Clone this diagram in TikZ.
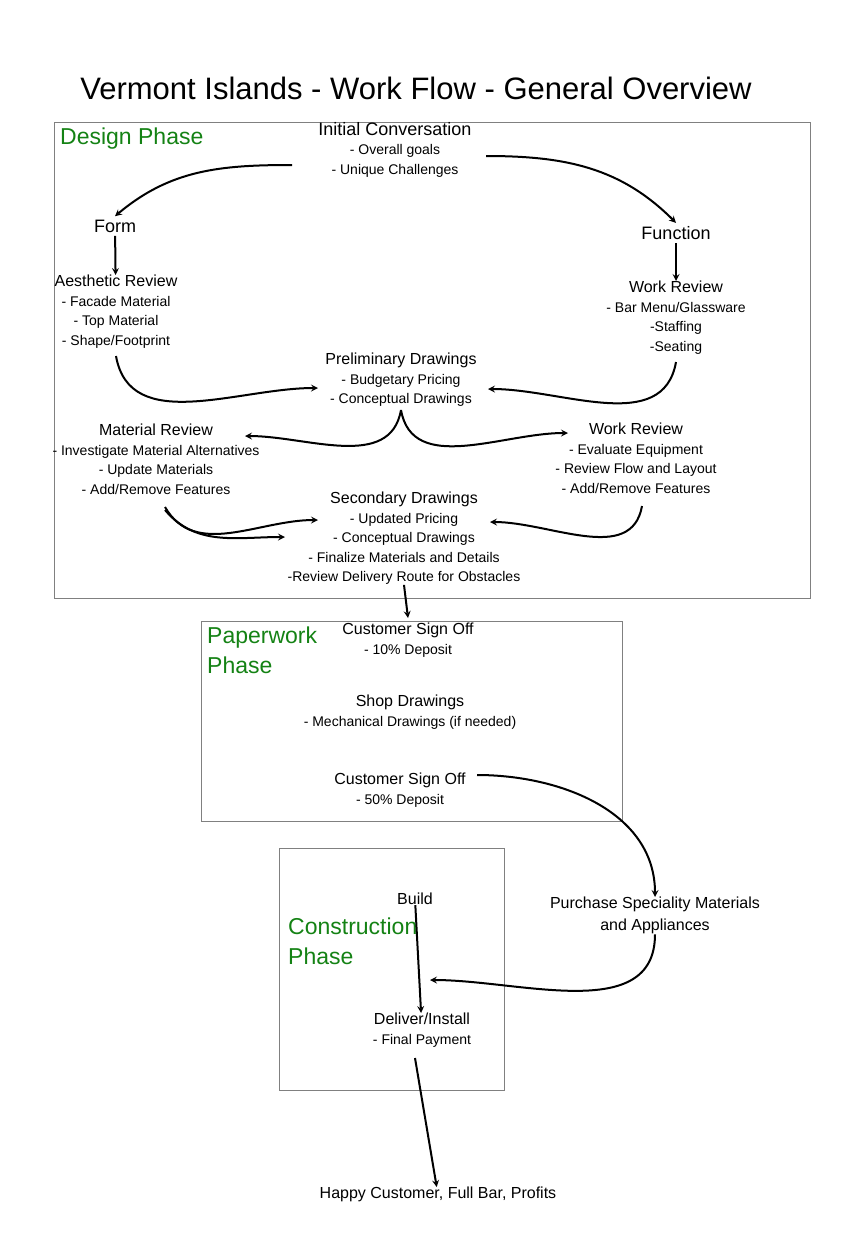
\documentclass[tikz,border=0pt]{standalone}
\usepackage{fontspec}
\setmainfont{Liberation Sans}
\usetikzlibrary{arrows}
\definecolor{green1}{RGB}{20, 130, 20}
\tikzset{
  blk/.style={align=center, anchor=north, inner sep=0pt, font=\fontsize{14}{19.5}\selectfont},
  hd/.style={font=\fontsize{18}{20}\selectfont},
  phase/.style={align=left, anchor=north west, inner sep=0pt, text=green1, font=\fontsize{23}{30}\selectfont},
  box/.style={draw=gray, line width=0.8pt},
  flow/.style={->, >=stealth, line width=2pt}
}
\begin{document}
\begin{tikzpicture}[x=1pt, y=-1pt]
  \useasboundingbox (0,0) rectangle (846,1234);
  \node[font=\fontsize{31}{34}\selectfont] (title) at (416,88) {Vermont Islands - Work Flow - General Overview};

  % design phase
  \draw[box] (54,122) rectangle (810,598);
  \node[phase] (dp) at (60,128) {Design Phase};
  \node[blk] (init) at (395,122) {{\fontsize{18}{20}\selectfont Initial Conversation}\\- Overall goals\\- Unique Challenges};
  \node[hd] (form) at (115,226) {Form};
  \node[hd] (func) at (676,233) {Function};
  \node[blk] (aes) at (116,275) {{\fontsize{16}{19}\selectfont Aesthetic Review}\\- Facade Material\\- Top Material\\- Shape/Footprint};
  \node[blk] (wr1) at (676,281) {{\fontsize{16}{19}\selectfont Work Review}\\- Bar Menu/Glassware\\-Staffing\\-Seating};
  \node[blk] (pre) at (401,353) {{\fontsize{16}{19}\selectfont Preliminary Drawings}\\- Budgetary Pricing\\- Conceptual Drawings};
  \node[blk] (mat) at (156,424) {{\fontsize{16}{19}\selectfont Material Review}\\- Investigate Material Alternatives\\- Update Materials\\- Add/Remove Features};
  \node[blk] (wr2) at (636,423) {{\fontsize{16}{19}\selectfont Work Review}\\- Evaluate Equipment\\- Review Flow and Layout\\- Add/Remove Features};
  \node[blk] (sec) at (404,492) {{\fontsize{16}{19}\selectfont Secondary Drawings}\\- Updated Pricing\\- Conceptual Drawings\\- Finalize Materials and Details\\-Review Delivery Route for Obstacles};

  % paperwork phase
  \draw[box] (201,621) rectangle (622,821);
  \node[phase] (pp) at (207,627) {Paperwork\\Phase};
  \node[blk] (cs1) at (408,623) {{\fontsize{16}{19}\selectfont Customer Sign Off}\\- 10\% Deposit};
  \node[blk] (shop) at (410,695) {{\fontsize{16}{19}\selectfont Shop Drawings}\\- Mechanical Drawings (if needed)};
  \node[blk] (cs2) at (400,773) {{\fontsize{16}{19}\selectfont Customer Sign Off}\\- 50\% Deposit};

  % construction phase
  \draw[box] (279,848) rectangle (504,1090);
  \node[phase] (cp) at (288,918) {Construction\\Phase};
  \node[blk] (build) at (415,893) {{\fontsize{16}{19}\selectfont Build}};
  \node[blk] (deliv) at (422,1013) {{\fontsize{16}{19}\selectfont Deliver/Install}\\- Final Payment};
  \node[blk, font=\fontsize{16}{22}\selectfont] (buy) at (655,897) {Purchase Speciality Materials\\and Appliances};
  \node[blk, font=\fontsize{16}{19}\selectfont] (happy) at (438,1187) {Happy Customer, Full Bar, Profits};

  \draw[flow] (292,165) to[out=180, in=40] (form.north);
  \draw[flow] (486,156) to[out=0, in=135] (func.north);
  \draw[flow] (form) -- (aes);
  \draw[flow] (func) -- (wr1);
  \draw[flow] (116,356) to[out=-80, in=180] (318,388);
  \draw[flow] (676,362) to[out=-100, in=0] (488,389);
  \draw[flow] (401,410) to[out=-100, in=0] (245,436);
  \draw[flow] (401,410) to[out=-80, in=180] (568,433);
  \draw[flow] (165,507) to[out=-60, in=180] (318,520);
  \draw[flow] (165,510) to[out=-50, in=180] (285,537);
  \draw[flow] (642,506) to[out=-100, in=0] (490,522);
  \draw[flow] (sec.south) -- (408,618);
  \draw[flow] (477,775) to[out=0, in=90] (buy.north);
  \draw[flow] (buy.south) to[out=-90, in=0] (430,980);
  \draw[flow] (build) -- (deliv);
  \draw[flow] (415,1058) -- (happy);
\end{tikzpicture}
\end{document}
